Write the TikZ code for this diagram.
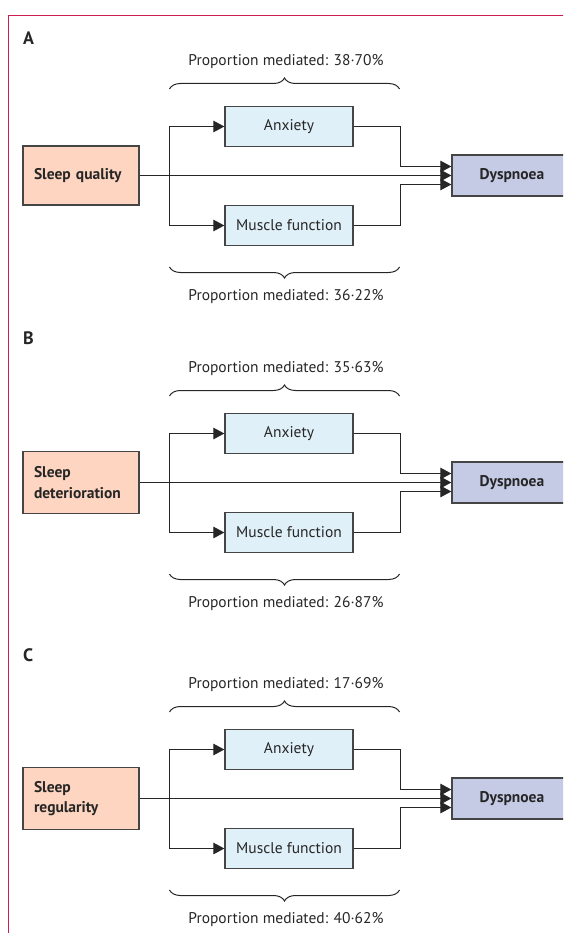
\documentclass[tikz,border=0pt]{standalone}
\usepackage{fontspec}
\setmainfont{PT Sans}
\usetikzlibrary{decorations.pathreplacing,arrows.meta}
\definecolor{framecol}{HTML}{CC1F4E}
\definecolor{peach}{HTML}{FDD5C1}
\definecolor{pale}{HTML}{E0F0F8}
\definecolor{lav}{HTML}{C5CBE5}
\definecolor{edgecol}{HTML}{454545}
\definecolor{ink}{HTML}{262626}
\tikzset{
  box/.style={draw=edgecol, line width=1.3pt, inner sep=0pt, text=ink,
    font=\fontsize{15.5}{20.5}\selectfont},
  exposure/.style={box, fill=peach, font=\bfseries\fontsize{15.5}{20.5}\selectfont,
    align=left, text width=94pt, inner xsep=11pt, minimum width=116pt},
  mediator/.style={box, fill=pale, minimum width=128pt, minimum height=40pt},
  outcome/.style={box, fill=lav, font=\bfseries\fontsize{15.5}{20.5}\selectfont,
    minimum width=120pt, minimum height=41pt},
  conn/.style={draw=ink, line width=1pt},
  tipped/.style={conn, -{Triangle[length=11pt,width=11.5pt]}},
  bracestyle/.style={draw=ink, line width=1pt, decorate,
    decoration={brace, amplitude=11pt}},
  proptext/.style={text=ink, font=\fontsize{15.5}{18}\selectfont, inner sep=0pt},
  panellabel/.style={text=ink, font=\bfseries\fontsize{18}{20}\selectfont, inner sep=0pt, anchor=west},
  framestyle/.style={draw=framecol, line width=1pt}
}
% #1 offset, #2 letter, #3 label y, #4 exposure text, #5 top text, #6 bottom text, #7 exposure height
\newcommand\drawpanel[7]{%
  \node[panellabel] (lab#2) at (23,#3) {#2};
  \node[exposure, minimum height=#7] (sl#2) at (81,175.5+#1) {#4};
  \node[mediator] (an#2) at (289,126.5+#1) {Anxiety};
  \node[mediator] (mu#2) at (289,225.5+#1) {Muscle function};
  \node[outcome] (dy#2) at (512,175.5+#1) {Dyspnoea};
  \coordinate (j#2) at (169.5,175.5+#1);
  \draw[tipped] (sl#2.east) -- (dy#2.west);
  \draw[tipped] (j#2) |- (an#2.west);
  \draw[tipped] (j#2) |- (mu#2.west);
  \draw[tipped] (an#2.east) -- ++(46.5,0) |- ([yshift=9pt]dy#2.west);
  \draw[tipped] (mu#2.east) -- ++(46.5,0) |- ([yshift=-9pt]dy#2.west);
  \coordinate (tbl#2) at (169.5,89+#1);
  \coordinate (tbr#2) at (399.5,89+#1);
  \coordinate (bbl#2) at (169.5,267+#1);
  \coordinate (bbr#2) at (399.5,267+#1);
  \draw[bracestyle] (tbl#2) -- (tbr#2);
  \draw[bracestyle] (bbr#2) -- (bbl#2);
  \node[proptext] (tt#2) at (286,62+#1) {#5};
  \node[proptext] (bt#2) at (286,297+#1) {#6};
}
\begin{document}
\begin{tikzpicture}[x=1pt,y=-1pt]
  \useasboundingbox (0,0) rectangle (563,933);
  \begin{scope}
  \clip (0,0) rectangle (563,933);
  \draw[framestyle] (8,940) -- (8,15.5) -- (570,15.5);
  \drawpanel{0}{A}{38}{Sleep~quality}{Proportion mediated: 38·70\%}{Proportion mediated: 36·22\%}{59pt}
  \drawpanel{307}{B}{338}{Sleep\\deterioration}{Proportion mediated: 35·63\%}{Proportion mediated: 26·87\%}{62pt}
  \drawpanel{623}{C}{655}{Sleep\\regularity}{Proportion mediated: 17·69\%}{Proportion mediated: 40·62\%}{62pt}
  \end{scope}
\end{tikzpicture}
\end{document}
